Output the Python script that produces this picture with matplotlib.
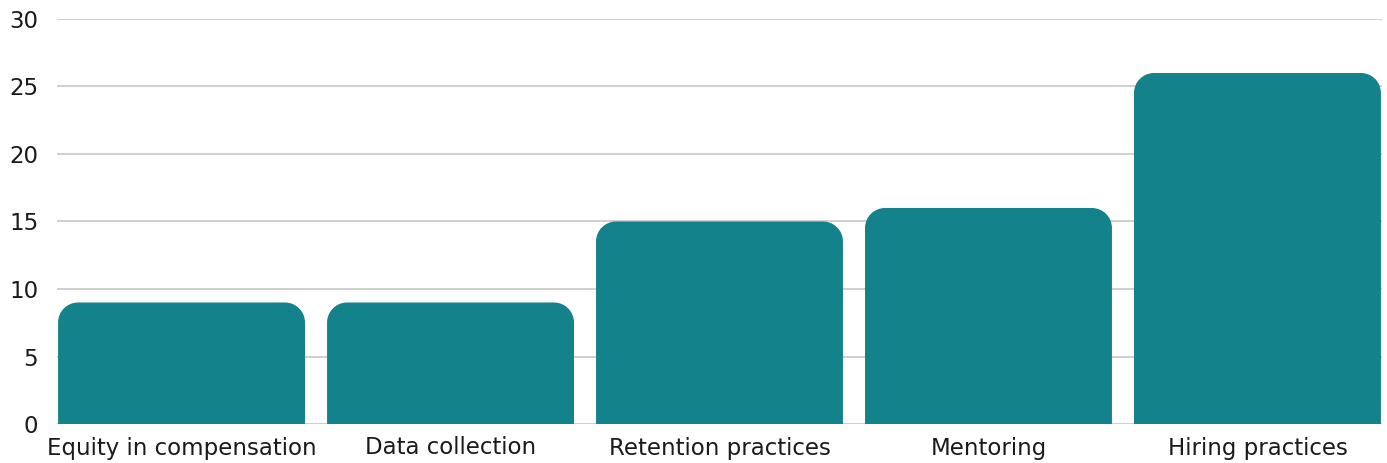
import matplotlib
matplotlib.use("Agg")
import matplotlib.pyplot as plt
from matplotlib.path import Path
from matplotlib.patches import PathPatch

categories = ["Equity in compensation", "Data collection", "Retention practices", "Mentoring", "Hiring practices"]
values = [9, 9, 15, 16, 26]
yticks = [0, 5, 10, 15, 20, 25, 30]

BAR_COLOR = "#14828a"
GRID_COLOR = "#cccccc"
RADIUS_PX = 20
BAR_W = 0.918

plt.rcParams["font.family"] = ["DejaVu Sans"]

fig = plt.figure(figsize=(13.87, 4.63), dpi=100)
ax = fig.add_axes([57 / 1387, 39 / 463, 1325 / 1387, 405 / 463])
ax.set_xlim(-BAR_W / 2 - 0.004, len(categories) - 1 + BAR_W / 2 + 0.004)
ax.set_ylim(0, 30)

bars = ax.bar(range(len(categories)), values, width=BAR_W, color=BAR_COLOR, zorder=2)

# swap each bar for a shape with rounded top corners
fig.canvas.draw()
x0d, y0d = ax.transData.transform((0, 0))
x1d, y1d = ax.transData.transform((1, 1))
rx = RADIUS_PX / (x1d - x0d)
ry = RADIUS_PX / (y1d - y0d)
k = 0.5523
for b in bars:
    x, w, h = b.get_x(), b.get_width(), b.get_height()
    r_y = min(ry, h)
    verts = [
        (x, 0), (x, h - r_y),
        (x, h - r_y + k * r_y), (x + rx - k * rx, h), (x + rx, h),
        (x + w - rx, h),
        (x + w - rx + k * rx, h), (x + w, h - r_y + k * r_y), (x + w, h - r_y),
        (x + w, 0), (x, 0),
    ]
    codes = [Path.MOVETO, Path.LINETO,
             Path.CURVE4, Path.CURVE4, Path.CURVE4,
             Path.LINETO,
             Path.CURVE4, Path.CURVE4, Path.CURVE4,
             Path.LINETO, Path.CLOSEPOLY]
    ax.add_patch(PathPatch(Path(verts, codes), facecolor=BAR_COLOR, edgecolor="none", zorder=2))
    b.remove()

ax.set_yticks(yticks)
ax.set_xticks(range(len(categories)))
ax.set_xticklabels(categories)
ax.yaxis.grid(True, color=GRID_COLOR, linewidth=1.3, zorder=0)
ax.set_axisbelow(True)
for s in ax.spines.values():
    s.set_visible(False)
ax.tick_params(axis="y", length=0, pad=13.5, labelsize=16.5, labelcolor="#1a1a1a")
ax.tick_params(axis="x", length=0, pad=9, labelsize=16.5, labelcolor="#1a1a1a")

plt.savefig("out.png", dpi=100)
